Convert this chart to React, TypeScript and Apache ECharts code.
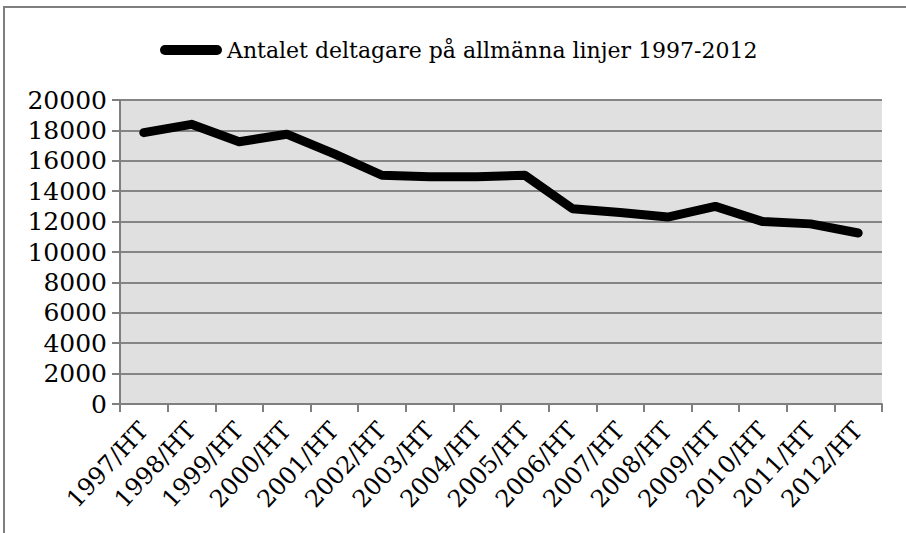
import React, { useEffect, useRef } from "react";
import * as echarts from "echarts";

const categories = [
  "1997/HT", "1998/HT", "1999/HT", "2000/HT", "2001/HT", "2002/HT", "2003/HT", "2004/HT",
  "2005/HT", "2006/HT", "2007/HT", "2008/HT", "2009/HT", "2010/HT", "2011/HT", "2012/HT",
];
const seriesName = "Antalet deltagare på allmänna linjer 1997-2012";
const values = [
  17850, 18400, 17250, 17750, 16450, 15050, 14950, 14950,
  15050, 12850, 12600, 12300, 13000, 12000, 11850, 11250,
];
const yMin = 0;
const yMax = 20000;
const yInterval = 2000;

const FONT = "'DejaVu Serif', 'Liberation Serif', serif";

export default function App() {
  const ref = useRef<HTMLDivElement>(null);
  useEffect(() => {
    if (!ref.current) return;
    const chart = echarts.init(ref.current, undefined, { renderer: "svg" });
    chart.setOption({
      animation: false,
      backgroundColor: "#ffffff",
      textStyle: { fontFamily: FONT },
      graphic: [
        { type: "line", shape: { x1: 3, y1: 7, x2: 906, y2: 7 }, style: { stroke: "#7f7f7f", lineWidth: 2 } },
        { type: "line", shape: { x1: 4, y1: 7, x2: 4, y2: 533 }, style: { stroke: "#7f7f7f", lineWidth: 2 } },
      ],
      legend: {
        left: 155,
        top: 34,
        itemWidth: 62,
        itemHeight: 11,
        data: [
          {
            name: seriesName,
            icon: "path://M5,0 H57 A5,5 0 0 1 57,10 H5 A5,5 0 0 1 5,0 Z",
            itemStyle: { color: "#000000" },
          },
        ],
        textStyle: { fontFamily: FONT, fontSize: 22, color: "#000000" },
      },
      grid: {
        left: 120,
        right: 24,
        top: 100,
        bottom: 129,
        show: true,
        backgroundColor: "#e0e0e0",
        borderWidth: 0,
      },
      xAxis: {
        type: "category",
        data: categories,
        boundaryGap: true,
        axisLine: { show: true, lineStyle: { color: "#7f7f7f", width: 2 } },
        axisTick: { show: true, alignWithLabel: false, length: 8, lineStyle: { color: "#7f7f7f", width: 2 } },
        axisLabel: {
          interval: 0,
          rotate: 47,
          margin: 22,
          fontFamily: FONT,
          fontSize: 24,
          color: "#000000",
        },
      },
      yAxis: {
        type: "value",
        min: yMin,
        max: yMax,
        interval: yInterval,
        axisLine: { show: true, lineStyle: { color: "#7f7f7f", width: 2 } },
        axisTick: { show: true, length: 8, lineStyle: { color: "#7f7f7f", width: 2 } },
        axisLabel: {
          margin: 13,
          fontFamily: FONT,
          fontSize: 25,
          color: "#000000",
          formatter: (v: number) => String(v),
        },
        splitLine: { show: true, lineStyle: { color: "#858585", width: 2 } },
      },
      series: [
        {
          name: seriesName,
          type: "line",
          data: values,
          showSymbol: false,
          symbol: "none",
          lineStyle: { color: "#000000", width: 9, cap: "round", join: "round" },
          itemStyle: { color: "#000000" },
        },
      ],
    });
    return () => chart.dispose();
  }, []);
  return <div ref={ref} style={{ width: 906, height: 533, position: "absolute", left: 0, top: 0 }} />;
}
